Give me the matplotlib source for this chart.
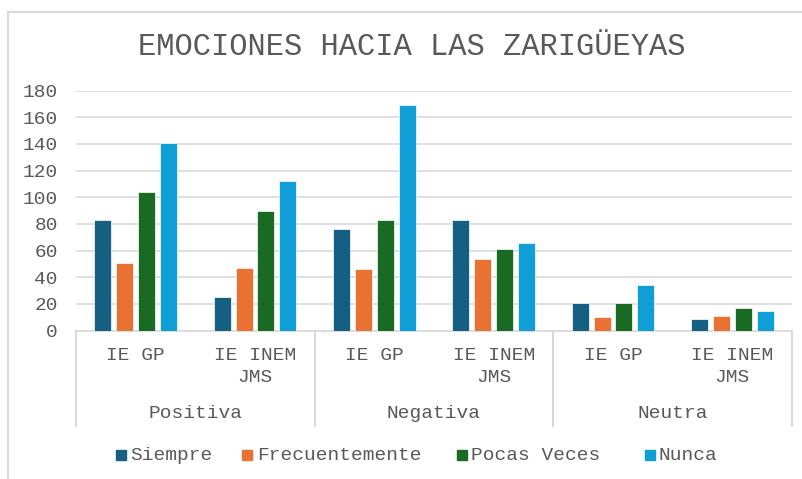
import matplotlib
matplotlib.use("Agg")
import matplotlib.pyplot as plt
import matplotlib.transforms as mtransforms
from matplotlib.patches import Rectangle
from matplotlib.lines import Line2D
import numpy as np

# ---- data ----
groups = ["Positiva", "Negativa", "Neutra"]
schools = ["IE GP", "IE INEM\nJMS"]
series_names = ["Siempre", "Frecuentemente", "Pocas Veces", "Nunca"]
siempre = [83, 25, 76, 83, 21, 9]
frecuentemente = [51, 47, 46, 54, 10, 11]
pocas_veces = [104, 90, 83, 61, 21, 17]
nunca = [141, 112, 169, 66, 34, 15]
yticks = [0, 20, 40, 60, 80, 100, 120, 140, 160, 180]
title = "EMOCIONES HACIA LAS ZARIGÜEYAS"

colors = ["#156082", "#E97132", "#196B24", "#0F9ED5"]
txt_color = "#595959"
grid_color = "#D9D9D9"
FONT = ["Liberation Mono", "DejaVu Sans Mono"]

W, H = 803, 479
fig = plt.figure(figsize=(W / 100, H / 100), dpi=100)
plt.rcParams["font.family"] = FONT

def fx(px):
    return px / W

def fy(py):
    return 1 - py / H

left, right, top, bottom = 76, 792, 90.7, 330.5
ax = fig.add_axes([fx(left), fy(bottom), fx(right - left), (bottom - top) / H])

series = [siempre, frecuentemente, pocas_veces, nunca]
ncat = len(siempre)
x = np.arange(ncat)
step = 0.183
width = 0.142
for i, (vals, c) in enumerate(zip(series, colors)):
    ax.bar(x + (i - 1.5) * step, vals, width=width, color=c,
           edgecolor="white", linewidth=0.5, zorder=3)

ax.set_xlim(-0.5, ncat - 0.5)
ax.set_ylim(0, 180)
ax.set_yticks(yticks)
ax.set_yticklabels([str(v) for v in yticks], fontsize=14, color=txt_color)
ax.tick_params(axis="y", length=0, pad=13)
ax.set_xticks([])
ax.yaxis.grid(True, color=grid_color, linewidth=1.2, zorder=0)
for s in ["top", "right", "left"]:
    ax.spines[s].set_visible(False)
ax.spines["bottom"].set_color(grid_color)
ax.spines["bottom"].set_linewidth(1.2)

# multi-level category axis
blend = mtransforms.blended_transform_factory(ax.transData, fig.transFigure)
sep_bottom = fy(426)
for b in np.arange(-0.5, ncat, 2):
    ax.add_line(Line2D([b, b], [fy(bottom), sep_bottom], transform=blend,
                       color=grid_color, linewidth=1.5, clip_on=False))

line_y = [355, 378]
for ci in range(ncat):
    lab = schools[ci % len(schools)]
    for li, part in enumerate(lab.split("\n")):
        ax.text(ci, fy(line_y[li]), part, transform=blend, ha="center",
                va="center", fontsize=14, color=txt_color)

for gi, g in enumerate(groups):
    ax.text(gi * 2 + 0.5, fy(413), g, transform=blend, ha="center",
            va="center", fontsize=14, color=txt_color)

# title
fig.text(fx(411.5), fy(47), title, ha="center", va="center",
         fontsize=22, color=txt_color)

# legend (manual placement to match reference)
sq_x = [121, 247, 462, 650]
tx_x = [130, 257, 471, 659]
ly = 455
for i, name in enumerate(series_names):
    fig.add_artist(Rectangle((fx(sq_x[i] - 5), fy(ly + 5)), 10 / W, 10 / H,
                             transform=fig.transFigure, color=colors[i]))
    fig.text(fx(tx_x[i]), fy(ly), name, ha="left", va="center",
             fontsize=14, color=txt_color)

# chart area border (left and top visible)
fig.add_artist(Line2D([fx(8), fx(8)], [fy(12), 0], transform=fig.transFigure,
                      color=grid_color, linewidth=1.5))
fig.add_artist(Line2D([fx(8), 1], [fy(12), fy(12)], transform=fig.transFigure,
                      color=grid_color, linewidth=1.5))

fig.savefig("out.png", dpi=100)
